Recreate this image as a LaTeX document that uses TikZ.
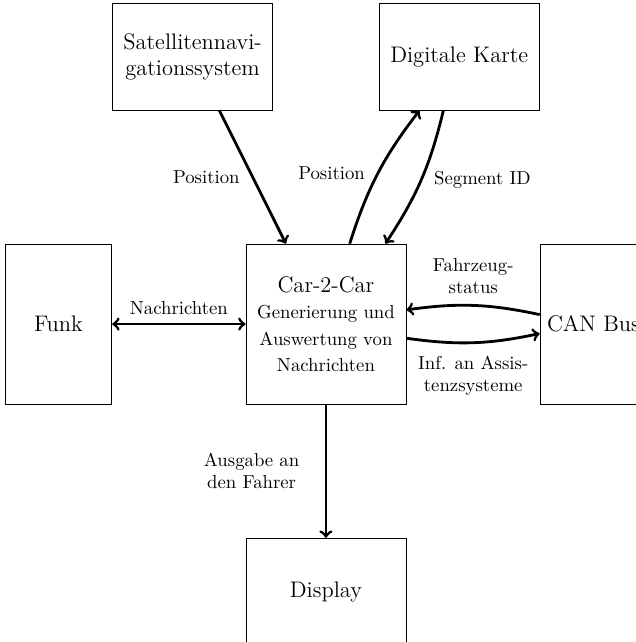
\documentclass[tikz,border=0pt]{standalone}
\usepackage{amsmath}
\usepackage{tikz}
\usetikzlibrary{positioning}

\begin{document}
\begin{tikzpicture}[
    node distance=2.5cm,
    every node/.style={align=center},
    block/.style={draw, minimum width=3cm, minimum height=3cm, font=\large},
    flatblock/.style={block, minimum height=2cm},
    tallblock/.style={block, minimum width=2cm},
    conn/.style={->, line width=1.5pt}
  ]
    \clip (-6.11,-5.96) rectangle (5.81,6.075);
    % central unit and surrounding components
    \node [block] (c2c) at (0,0) {Car-2-Car\\\normalsize Generierung und\\\normalsize Auswertung von\\\normalsize Nachrichten};
    \node [flatblock, above=of c2c, xshift=-2.5cm] (sat) {Satellitennavi-\\gationssystem};
    \node [flatblock, above=of c2c, xshift=2.5cm] (karte) {Digitale Karte};
    \node [tallblock, left=of c2c] (funk) {Funk};
    \node [tallblock, right=of c2c] (can) {CAN Bus};
    \node [flatblock, below=of c2c] (display) {Display};
    % data flows
    \draw [conn] (sat) -- node [left=1mm] {Position} (c2c);
    \draw [conn] (c2c) to [bend left=10] node [left=1mm] {Position} (karte);
    \draw [conn] (karte) to [bend left=10] node [right=1mm] {Segment ID} (c2c);
    \draw [conn, <->] (funk) -- node [above=1pt] {Nachrichten} (c2c);
    \draw [conn] (can) to [bend right=10] node [above=2pt] {Fahrzeug-\\status} (c2c);
    \draw [conn] (c2c) to [bend right=10] node [below=3pt] {Inf. an Assis-\\tenzsysteme} (can);
    \draw [conn] (c2c) -- node [left, text width=2.5cm] {Ausgabe an\\den Fahrer} (display);
\end{tikzpicture}
\end{document}
